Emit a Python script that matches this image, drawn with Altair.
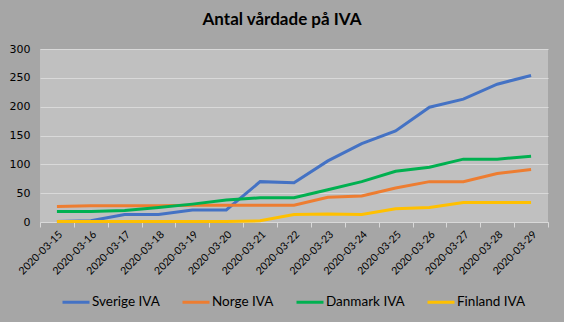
import altair as alt
import pandas as pd

dates = ["2020-03-15", "2020-03-16", "2020-03-17", "2020-03-18", "2020-03-19",
         "2020-03-20", "2020-03-21", "2020-03-22", "2020-03-23", "2020-03-24",
         "2020-03-25", "2020-03-26", "2020-03-27", "2020-03-28", "2020-03-29"]
series = ["Sverige IVA", "Norge IVA", "Danmark IVA", "Finland IVA"]
colors = ["#4472C4", "#ED7D31", "#00B050", "#FFC000"]

sverige = [1, 2, 13, 13, 21, 21, 70, 68, 106, 136, 158, 199, 213, 239, 254]
norge = [27, 28, 28, 28, 29, 29, 29, 29, 43, 45, 59, 70, 70, 84, 91]
danmark = [18, 18, 20, 25, 31, 38, 42, 42, 56, 70, 88, 95, 109, 109, 114]
finland = [1, 1, 1, 1, 1, 1, 2, 13, 14, 13, 23, 25, 34, 34, 34]

rows = []
for name, vals in zip(series, [sverige, norge, danmark, finland]):
    for d, v in zip(dates, vals):
        rows.append({"Datum": d, "Serie": name, "Antal": v})
df = pd.DataFrame(rows)

chart = alt.Chart(df).mark_line(strokeWidth=3).encode(
    x=alt.X("Datum:N", sort=dates, bandPosition=0.5,
            scale=alt.Scale(type="band", paddingInner=0, paddingOuter=0),
            axis=alt.Axis(title=None, labelAngle=-45, tickBand="extent",
                          labelFont="Lato", labelFontSize=10.5, labelColor="#000000",
                          domainColor="#d9d9d9", tickColor="#d9d9d9", tickSize=5,
                          labelPadding=2, grid=False)),
    y=alt.Y("Antal:Q", scale=alt.Scale(domain=[0, 300]),
            axis=alt.Axis(title=None, values=[0, 50, 100, 150, 200, 250, 300],
                          labelFont="DejaVu Sans", labelFontSize=11, labelColor="#000000",
                          domain=False, ticks=False, labelPadding=10,
                          gridColor="#d9d9d9", gridWidth=1)),
    color=alt.Color("Serie:N", sort=series,
                    scale=alt.Scale(domain=series, range=colors),
                    legend=alt.Legend(title=None, orient="none", direction="horizontal",
                                      legendX=21, legendY=238,
                                      symbolType="stroke", symbolSize=729,
                                      symbolStrokeWidth=3, labelFont="Lato",
                                      labelFontSize=13.5, labelColor="#000000",
                                      labelOffset=1, columnPadding=16)),
    order=alt.value(0),
).properties(
    width=508, height=173,
    autosize=alt.AutoSizeParams(type="none"),
    padding={"left": 40, "top": 49, "right": 16, "bottom": 100},
    title=alt.TitleParams("Antal vårdade på IVA", font="Lato", fontSize=17,
                          fontWeight="bold", color="#000000", offset=14, dx=-12),
    background="#a6a6a6",
).configure_view(fill="#c0c0c0", stroke=None)

chart.save("out.html", embed_options={"renderer": "svg", "actions": False})
